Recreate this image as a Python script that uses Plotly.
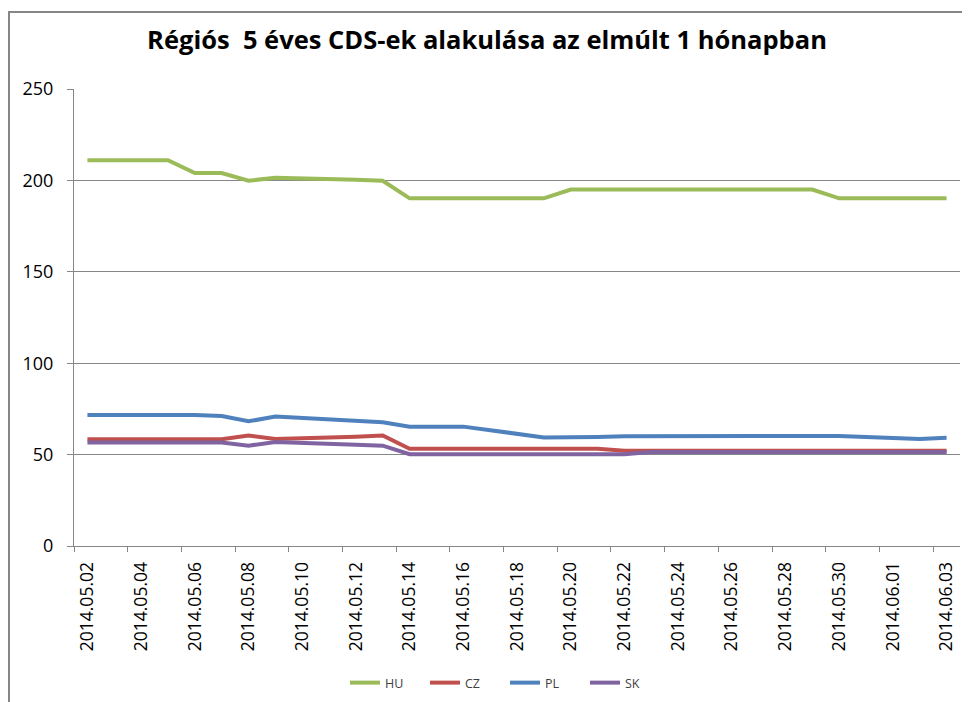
import plotly.graph_objects as go
from datetime import datetime, timedelta

dates = ["2014-05-02", "2014-05-05", "2014-05-06", "2014-05-07", "2014-05-08", "2014-05-09",
         "2014-05-12", "2014-05-13", "2014-05-14", "2014-05-15", "2014-05-16",
         "2014-05-19", "2014-05-20", "2014-05-21", "2014-05-22", "2014-05-23",
         "2014-05-26", "2014-05-27", "2014-05-28", "2014-05-29", "2014-05-30",
         "2014-06-02", "2014-06-03"]

hu = [211, 211, 204, 204, 199.8, 201.5, 200.3, 199.8, 190.2, 190.2, 190.2,
      190.2, 195, 195, 195, 195, 195, 195, 195, 195, 190.2, 190.2, 190.2]
cz = [58.4, 58.4, 58.4, 58.4, 60.5, 58.5, 59.8, 60.5, 53.2, 53.2, 53.2,
      53.2, 53.2, 53.2, 52.1, 52.1, 52.1, 52.1, 52.1, 52.1, 52.1, 52.1, 52.1]
pl = [71.7, 71.7, 71.7, 71.1, 68.2, 70.8, 68.3, 67.7, 65.3, 65.3, 65.3,
      59.4, 59.4, 59.6, 60, 60.1, 60.6, 60.2, 60.2, 60.2, 60.2, 58.5, 59.2]
sk = [56.6, 56.6, 56.6, 56.6, 54.9, 56.9, 55.4, 54.9, 50.2, 50.2, 50.2,
      50.2, 50.2, 50.2, 50.2, 51.4, 51.4, 51.4, 51.4, 51.4, 51.4, 51.4, 51.4]

series = [("HU", hu, "#9BBB59"), ("CZ", cz, "#C0504D"), ("PL", pl, "#4F81BD"), ("SK", sk, "#8064A2")]

title = "Régiós  5 éves CDS-ek alakulása az elmúlt 1 hónapban"
y_ticks = [0, 50, 100, 150, 200, 250]

start = datetime(2014, 5, 2)
end = datetime(2014, 6, 3)
label_dates = []
d = start
while d <= end:
    label_dates.append(d)
    d += timedelta(days=2)
tick_marks = [x - timedelta(hours=12) for x in label_dates]

fig = go.Figure()
for name, vals, col in series:
    fig.add_trace(go.Scatter(x=dates, y=vals, name=name, mode="lines",
                             line=dict(color=col, width=4)))

# page body has an 8px margin; work in figure coords = screen - 8
OFF = 8
W, H = 970 - OFF, 702 - OFF
L, T = 74 - OFF, 89 - OFF
R = W - (960 - OFF)
B = H - (546 - OFF)
pw, ph = W - L - R, H - T - B

def px_x(sx):
    return (sx - OFF - L) / pw

def px_y(sy):
    return 1 - (sy - OFF - T) / ph

fig.update_layout(
    width=W, height=H,
    margin=dict(l=L, r=R, t=T, b=B, autoexpand=False),
    paper_bgcolor="white", plot_bgcolor="white",
    font=dict(family="Open Sans", color="#000000"),
    title=dict(text="<b>" + title + "</b>", x=px_x(487), xanchor="center", xref="paper",
               y=1 - (40 - OFF) / H, yanchor="middle", yref="container",
               font=dict(size=25.5, family="Open Sans", color="#000000")),
    showlegend=True,
    legend=dict(orientation="h", x=px_x(345), xanchor="left",
                y=px_y(683), yanchor="middle",
                font=dict(size=12.5, color="#404040"), itemwidth=30, tracegroupgap=0,
                entrywidth=35, entrywidthmode="pixels"),
    xaxis=dict(type="date", automargin=False,
               range=[start - timedelta(hours=12), end + timedelta(hours=12)],
               tickmode="array", tickvals=label_dates, tickformat="%Y.%m.%d",
               tickangle=-90, ticks="", showgrid=False,
               showline=True, linecolor="#868686", linewidth=1,
               ticklabelstandoff=8,
               tickfont=dict(size=17.5, family="Open Sans", color="#000000"),
               minor=dict(tickmode="array", tickvals=tick_marks, ticks="outside",
                          ticklen=5, tickcolor="#868686", showgrid=False)),
    yaxis=dict(range=[0, 250], tickmode="array", tickvals=y_ticks, automargin=False,
               showgrid=True, gridcolor="#868686", gridwidth=1,
               showline=True, linecolor="#868686", linewidth=1,
               ticks="outside", ticklen=6, tickcolor="#868686",
               ticklabelstandoff=10,
               zeroline=False,
               tickfont=dict(size=18, family="Open Sans", color="#000000")),
)

# outer chart border (top and left edges visible)
fig.add_shape(type="rect", xref="paper", yref="paper",
              x0=(1 - L) / pw, x1=(W + 20 - L) / pw,
              y0=1 - (H + 20 - T) / ph, y1=1 + (T - (12 - OFF)) / ph,
              line=dict(color="#868686", width=2), fillcolor="rgba(0,0,0,0)", layer="below")

fig.write_html("out.html")
